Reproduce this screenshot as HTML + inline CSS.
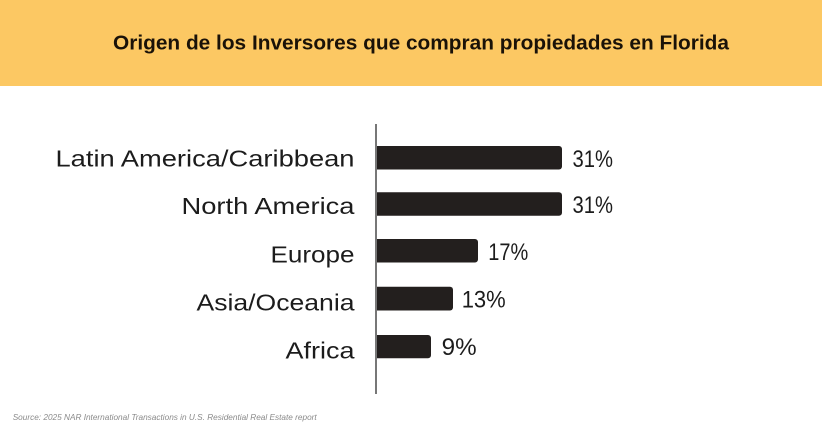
<!DOCTYPE html>
<html>
<head>
<meta charset="utf-8">
<style>
  html, body { margin:0; padding:0; background:#ffffff; }
  body { width:822px; height:432px; overflow:hidden; }
  svg { display:block; }
</style>
</head>
<body>
<svg width="822" height="432" viewBox="0 0 822 432" xmlns="http://www.w3.org/2000/svg">
  <rect x="0" y="0" width="822" height="432" fill="#ffffff"/>
  <rect x="0" y="0" width="822" height="86" fill="#fcc863"/>
  <text x="113" y="49.5" font-family="Liberation Sans, sans-serif" font-weight="bold" font-size="20.5" fill="#1a1208" textLength="616" lengthAdjust="spacingAndGlyphs">Origen de los Inversores que compran propiedades en Florida</text>

  <!-- axis -->
  <line x1="376" y1="124" x2="376" y2="394" stroke="#555" stroke-width="1.6"/>

  <!-- bars -->
  <g fill="#231f1e">
    <path d="M377 146 H559 a3 3 0 0 1 3 3 V166.5 a3 3 0 0 1 -3 3 H377 Z"/>
    <path d="M377 192.3 H559 a3 3 0 0 1 3 3 V212.8 a3 3 0 0 1 -3 3 H377 Z"/>
    <path d="M377 239 H475 a3 3 0 0 1 3 3 V259.5 a3 3 0 0 1 -3 3 H377 Z"/>
    <path d="M377 286.8 H450 a3 3 0 0 1 3 3 V307.5 a3 3 0 0 1 -3 3 H377 Z"/>
    <path d="M377 335 H428 a3 3 0 0 1 3 3 V355.3 a3 3 0 0 1 -3 3 H377 Z"/>
  </g>

  <!-- category labels -->
  <g font-family="Liberation Sans, sans-serif" font-size="23.5" fill="#1c1c1c" text-anchor="end">
    <text x="354.5" y="166.7" textLength="299" lengthAdjust="spacingAndGlyphs">Latin America/Caribbean</text>
    <text x="354.5" y="214" textLength="173" lengthAdjust="spacingAndGlyphs">North America</text>
    <text x="354.5" y="262.3" textLength="84" lengthAdjust="spacingAndGlyphs">Europe</text>
    <text x="354.5" y="310.5" textLength="158" lengthAdjust="spacingAndGlyphs">Asia/Oceania</text>
    <text x="354.5" y="358.3" textLength="69" lengthAdjust="spacingAndGlyphs">Africa</text>
  </g>

  <!-- value labels -->
  <g font-family="Liberation Sans, sans-serif" font-size="24" fill="#1c1c1c">
    <text x="572.5" y="167" textLength="40.5" lengthAdjust="spacingAndGlyphs">31%</text>
    <text x="572.5" y="213" textLength="40.5" lengthAdjust="spacingAndGlyphs">31%</text>
    <text x="488.3" y="260.2" textLength="40" lengthAdjust="spacingAndGlyphs">17%</text>
    <text x="461.7" y="307.5" textLength="44" lengthAdjust="spacingAndGlyphs">13%</text>
    <text x="441.7" y="355.2" textLength="35" lengthAdjust="spacingAndGlyphs">9%</text>
  </g>

  <!-- source -->
  <text x="12.7" y="420" font-family="Liberation Sans, sans-serif" font-style="italic" font-size="8.5" fill="#8a8a8a" textLength="304" lengthAdjust="spacingAndGlyphs">Source: 2025 NAR International Transactions in U.S. Residential Real Estate report</text>
</svg>
</body>
</html>
